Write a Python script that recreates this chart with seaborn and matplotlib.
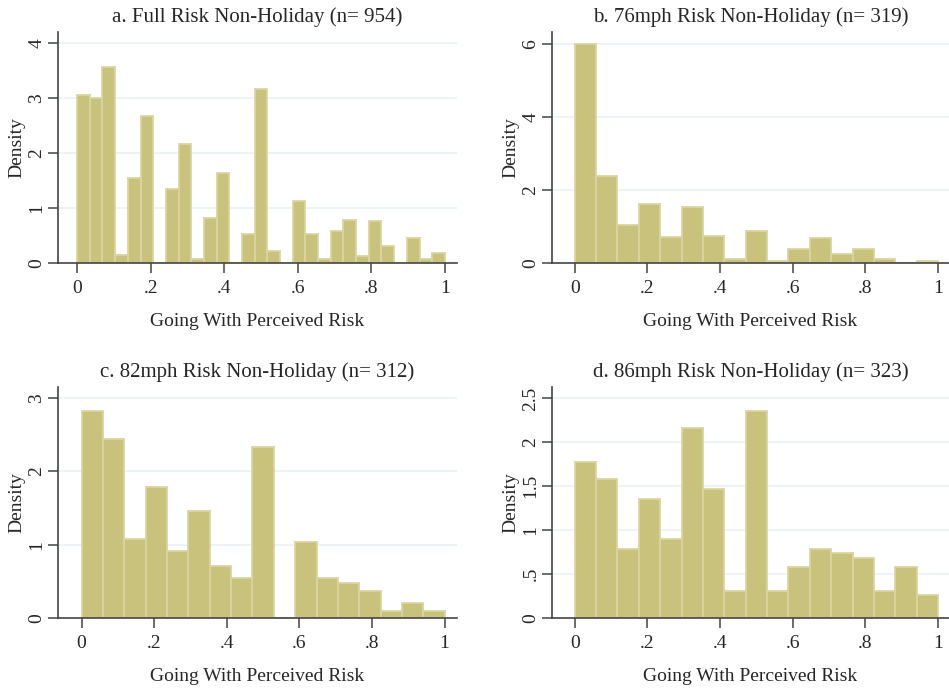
import numpy as np
import pandas as pd
import matplotlib
matplotlib.use("Agg")
import matplotlib.pyplot as plt
import seaborn as sns

# bar heights (density), bins span 0..1
full_risk = [3.05, 3.00, 3.57, 0.15, 1.54, 2.67, 0.00, 1.34, 2.16, 0.08,
             0.81, 1.63, 0.00, 0.52, 3.16, 0.21, 0.00, 1.12, 0.52, 0.07,
             0.58, 0.79, 0.12, 0.76, 0.30, 0.00, 0.45, 0.07, 0.18]
risk_76 = [6.02, 2.40, 1.05, 1.61, 0.70, 1.54, 0.73, 0.11, 0.89, 0.05,
           0.38, 0.69, 0.26, 0.38, 0.11, 0.00, 0.05]
risk_82 = [2.82, 2.44, 1.08, 1.78, 0.92, 1.46, 0.71, 0.54, 2.33, 0.00,
           1.03, 0.54, 0.48, 0.37, 0.10, 0.21, 0.10]
risk_86 = [1.78, 1.58, 0.78, 1.36, 0.90, 2.16, 1.47, 0.31, 2.36, 0.31,
           0.58, 0.78, 0.74, 0.68, 0.31, 0.58, 0.26]

titles = ["a. Full Risk Non-Holiday (n= 954)",
          "b. 76mph Risk Non-Holiday (n= 319)",
          "c. 82mph Risk Non-Holiday (n= 312)",
          "d. 86mph Risk Non-Holiday (n= 323)"]
x_ticks = [0, 0.2, 0.4, 0.6, 0.8, 1]
x_labels = ["0", ".2", ".4", ".6", ".8", "1"]
y_ticks = [[0, 1, 2, 3, 4], [0, 2, 4, 6], [0, 1, 2, 3], [0, 0.5, 1, 1.5, 2, 2.5]]
y_labels = [["0", "1", "2", "3", "4"], ["0", "2", "4", "6"], ["0", "1", "2", "3"],
            ["0", ".5", "1", "1.5", "2", "2.5"]]
y_max = [4.2, 6.34, 3.15, 2.63]
x_lims = [(-0.052, 1.033), (-0.0625, 1.03), (-0.065, 1.034), (-0.0625, 1.03)]

sns.set_style("white")
plt.rcParams["font.family"] = ["Liberation Serif", "DejaVu Serif"]

W, H = 949, 690
fig = plt.figure(figsize=(W / 100, H / 100), dpi=100)

# axes boxes in pixels: left, right, top, bottom
boxes = [(58, 457, 32, 263), (552, 949, 32, 263),
         (58, 457, 387, 618), (552, 949, 387, 618)]

bar_color = "#C9C27C"
edge_color = "#DAD4A0"
axis_color = "#444444"

for i, heights in enumerate([full_risk, risk_76, risk_82, risk_86]):
    l, r, t, b = boxes[i]
    ax = fig.add_axes([l / W, (H - b) / H, (r - l) / W, (b - t) / H])
    n = len(heights)
    edges = np.linspace(0, 1, n + 1)
    df = pd.DataFrame({"center": (edges[:-1] + edges[1:]) / 2, "height": heights})
    sns.histplot(data=df, x="center", weights="height", bins=list(edges), ax=ax,
                 color=bar_color, edgecolor=edge_color, linewidth=1.3, alpha=1)
    ax.set_xlim(*x_lims[i])
    ax.set_ylim(0, y_max[i])
    ax.set_xticks(x_ticks)
    ax.set_xticklabels(x_labels)
    ax.set_yticks(y_ticks[i])
    ax.set_yticklabels(y_labels[i], rotation=90, va="center")
    for yv in y_ticks[i][1:]:
        ax.axhline(yv, color="#EAF2F4", lw=1.2, zorder=0)
    ax.set_axisbelow(True)
    for s in ["top", "right"]:
        ax.spines[s].set_visible(False)
    for s in ["left", "bottom"]:
        ax.spines[s].set_color(axis_color)
        ax.spines[s].set_linewidth(1.2)
    ax.tick_params(axis="both", which="major", direction="out", length=7,
                   width=1.1, color=axis_color, labelsize=14, pad=5,
                   bottom=True, left=True)
    ax.tick_params(axis="y", pad=2)
    ax.set_title(titles[i], fontsize=15, pad=7)
    ax.set_xlabel("Going With Perceived Risk", fontsize=14, labelpad=12)
    ax.set_ylabel("Density", fontsize=14, labelpad=2)

fig.savefig("out.png", dpi=100, facecolor="white")
